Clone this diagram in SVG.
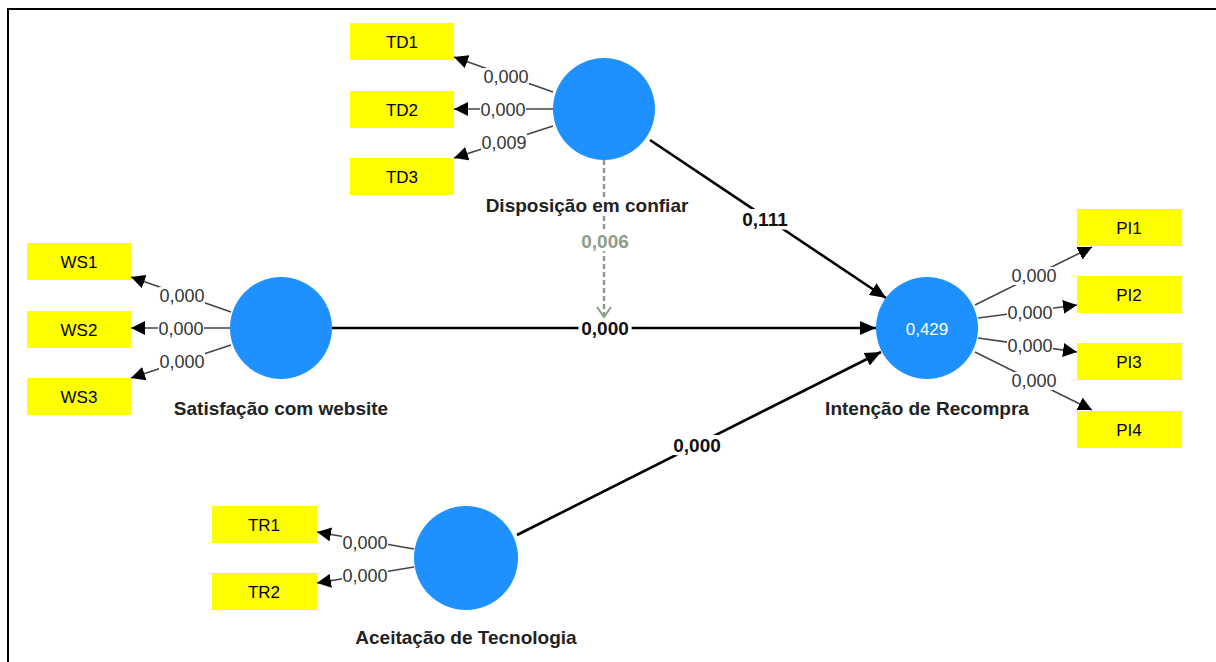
<svg xmlns="http://www.w3.org/2000/svg" width="1216" height="662" viewBox="0 0 1216 662">
<style>
text{font-family:"Liberation Sans",Arial,sans-serif;font-size:17px;text-anchor:middle}
.box{fill:#ffff00}
.lv{fill:#1e90ff}
.bt{fill:#000}
.bg{fill:#fff}
.nl{font-size:19px;font-weight:bold;fill:#222;paint-order:stroke;stroke:#fff;stroke-width:6px;stroke-linejoin:round}
.ll{font-size:18px;fill:#333}
.pl{font-size:19px;font-weight:bold;fill:#111;paint-order:stroke;stroke:#fff;stroke-width:7px;stroke-linejoin:round}
.ml{font-size:19px;font-weight:bold;fill:#8d9d8a;paint-order:stroke;stroke:#fff;stroke-width:7px;stroke-linejoin:round}
.load{stroke:#444;stroke-width:1.6;fill:none;marker-end:url(#arr)}
.path{stroke:#000;stroke-width:2.6;fill:none;marker-end:url(#arr2)}
.mod{stroke:#8d9d8a;stroke-width:2.5;stroke-dasharray:5 3;fill:none;marker-end:url(#open)}
</style>
<defs>
<marker id="arr" viewBox="0 0 14 14" refX="14" refY="7" markerWidth="14" markerHeight="14" markerUnits="userSpaceOnUse" orient="auto"><path d="M0,0 L14,7 L0,14 z" fill="#000"/></marker>
<marker id="arr2" viewBox="0 0 16 14" refX="16" refY="7" markerWidth="16" markerHeight="14" markerUnits="userSpaceOnUse" orient="auto"><path d="M0,0 L16,7 L0,14 z" fill="#000"/></marker>
<marker id="open" viewBox="0 0 12 16" refX="11" refY="8" markerWidth="12" markerHeight="16" markerUnits="userSpaceOnUse" orient="auto"><path d="M1,1 L11,8 L1,15" fill="none" stroke="#8d9d8a" stroke-width="2"/></marker>
</defs>
<rect width="1216" height="662" fill="#fff"/>
<path d="M8,662 L8,9 L1216,9" fill="none" stroke="#000" stroke-width="2"/>

<g id="connectors">
<path class="load" d="M553,92 L454,57"/>
<path class="load" d="M553,109 L454,109"/>
<path class="load" d="M553,126 L454,158"/>
<path class="load" d="M231,312 L131,277"/>
<path class="load" d="M230,328 L131,328"/>
<path class="load" d="M231,345 L131,378"/>
<path class="load" d="M975,305 L1092,247"/>
<path class="load" d="M978,318 L1077,305"/>
<path class="load" d="M978,338 L1077,352"/>
<path class="load" d="M975,352 L1092,410"/>
<path class="load" d="M414,549 L317,532"/>
<path class="load" d="M414,567 L317,583"/>
<path class="path" d="M650,140 L886,298"/>
<path class="path" d="M332,328 L876,328"/>
<path class="path" d="M517,535 L881,352"/>
<path class="mod" d="M604,160 L604,317"/>
<rect class="bg" x="483" y="68" width="46" height="18"/><text class="ll" x="506" y="83">0,000</text>
<rect class="bg" x="480" y="101" width="46" height="18"/><text class="ll" x="503" y="116">0,000</text>
<rect class="bg" x="481" y="134" width="46" height="18"/><text class="ll" x="504" y="149">0,009</text>
<rect class="bg" x="159" y="287" width="46" height="18"/><text class="ll" x="182" y="302">0,000</text>
<rect class="bg" x="158" y="320" width="46" height="18"/><text class="ll" x="181" y="335">0,000</text>
<rect class="bg" x="159" y="353" width="46" height="18"/><text class="ll" x="182" y="368">0,000</text>
<rect class="bg" x="1011" y="267" width="46" height="18"/><text class="ll" x="1034" y="282">0,000</text>
<rect class="bg" x="1007" y="304" width="46" height="18"/><text class="ll" x="1030" y="319">0,000</text>
<rect class="bg" x="1007" y="337" width="46" height="18"/><text class="ll" x="1030" y="352">0,000</text>
<rect class="bg" x="1011" y="372" width="46" height="18"/><text class="ll" x="1034" y="387">0,000</text>
<rect class="bg" x="342" y="534" width="46" height="18"/><text class="ll" x="365" y="549">0,000</text>
<rect class="bg" x="342" y="567" width="46" height="18"/><text class="ll" x="365" y="582">0,000</text>
<rect class="bg" x="740" y="209" width="50" height="20"/><text class="pl" x="765" y="226">0,111</text>
<text class="pl" x="605" y="335">0,000</text>
<rect class="bg" x="672" y="435" width="50" height="20"/><text class="pl" x="697" y="452">0,000</text>
<text class="ml" x="605" y="248">0,006</text>
</g>

<g id="TD1"><rect class="box" x="350" y="23" width="104" height="37"/><text class="bt" x="402" y="48">TD1</text></g>
<g id="TD2"><rect class="box" x="350" y="91" width="104" height="37"/><text class="bt" x="402" y="116">TD2</text></g>
<g id="TD3"><rect class="box" x="350" y="158" width="104" height="37"/><text class="bt" x="402" y="183">TD3</text></g>
<g id="WS1"><rect class="box" x="27" y="243" width="104" height="37"/><text class="bt" x="79" y="268">WS1</text></g>
<g id="WS2"><rect class="box" x="27" y="311" width="104" height="37"/><text class="bt" x="79" y="336">WS2</text></g>
<g id="WS3"><rect class="box" x="27" y="378" width="104" height="37"/><text class="bt" x="79" y="403">WS3</text></g>
<g id="PI1"><rect class="box" x="1077" y="209" width="105" height="37"/><text class="bt" x="1129" y="234">PI1</text></g>
<g id="PI2"><rect class="box" x="1077" y="276" width="105" height="37"/><text class="bt" x="1129" y="301">PI2</text></g>
<g id="PI3"><rect class="box" x="1077" y="343" width="105" height="37"/><text class="bt" x="1129" y="368">PI3</text></g>
<g id="PI4"><rect class="box" x="1077" y="411" width="105" height="37"/><text class="bt" x="1129" y="436">PI4</text></g>
<g id="TR1"><rect class="box" x="212" y="506" width="105" height="37"/><text class="bt" x="264" y="531">TR1</text></g>
<g id="TR2"><rect class="box" x="212" y="573" width="105" height="37"/><text class="bt" x="264" y="598">TR2</text></g>

<g id="disposicao"><circle class="lv" cx="604" cy="109" r="51"/><text class="nl" x="587" y="212">Disposição em confiar</text></g>
<g id="satisfacao"><circle class="lv" cx="281" cy="328" r="51"/><text class="nl" x="281" y="415">Satisfação com website</text></g>
<g id="intencao"><circle class="lv" cx="927" cy="328" r="51"/><text x="927" y="335" fill="#fff" font-size="18">0,429</text><text class="nl" x="927" y="415">Intenção de Recompra</text></g>
<g id="aceitacao"><circle class="lv" cx="466" cy="558" r="52"/><text class="nl" x="466" y="644">Aceitação de Tecnologia</text></g>
</svg>
